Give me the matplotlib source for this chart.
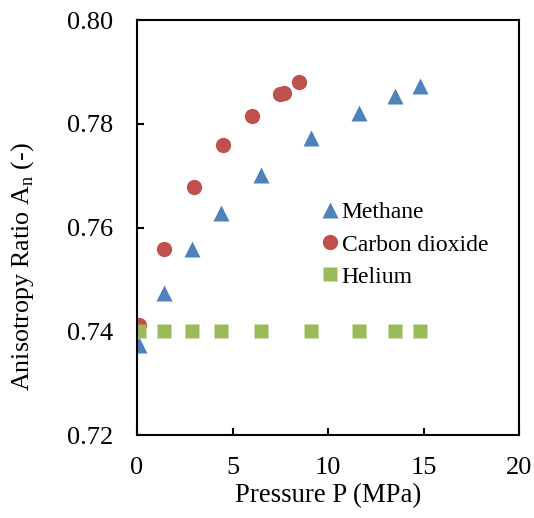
import matplotlib
matplotlib.use('Agg')
import matplotlib.pyplot as plt

plt.rcParams['font.family'] = 'Liberation Serif'

# data
p_methane = [0.1, 1.4, 2.9, 4.4, 6.5, 9.1, 11.6, 13.5, 14.8]
a_methane = [0.7374, 0.7474, 0.7559, 0.7628, 0.7701, 0.7772, 0.7822, 0.7854, 0.7873]
p_co2 = [0.1, 1.4, 3.0, 4.5, 6.0, 7.5, 7.7, 8.5]
a_co2 = [0.7413, 0.7559, 0.7679, 0.7759, 0.7815, 0.7857, 0.7860, 0.7880]
p_helium = [0.1, 1.4, 2.9, 4.4, 6.5, 9.1, 11.6, 13.5, 14.8]
a_helium = [0.740, 0.740, 0.740, 0.740, 0.740, 0.740, 0.740, 0.740, 0.740]

fig = plt.figure(figsize=(5.34, 5.18), dpi=100)
ax = fig.add_axes([0.2566, 0.160, 0.7154, 0.801])

ax.plot(p_methane, a_methane, '^', color='#4F81BD', ms=11.5, mec='none', label='Methane')
ax.plot(p_co2, a_co2, 'o', color='#C0504D', ms=11, mec='none', label='Carbon dioxide')
ax.plot(p_helium, a_helium, 's', color='#9BBB59', ms=10.5, mec='none', label='Helium')

ax.set_xlim(0, 20)
ax.set_ylim(0.72, 0.80)
ax.set_xticks([0, 5, 10, 15, 20])
ax.set_yticks([0.72, 0.74, 0.76, 0.78, 0.80])
ax.yaxis.set_major_formatter(matplotlib.ticker.FormatStrFormatter('%.2f'))
ax.tick_params(direction='in', length=5, width=1.5, labelsize=19)
ax.tick_params(axis='x', pad=16)
ax.tick_params(axis='y', pad=17)
for s in ax.spines.values():
    s.set_linewidth(1.5)

ax.set_xlabel('Pressure P (MPa)', fontsize=19.3, labelpad=3)
ax.set_ylabel(r'Anisotropy Ratio A$_\mathregular{n}$ (-)', fontsize=18.7)
ax.yaxis.set_label_coords(-0.264, 0.407)

ax.legend(loc='upper left', bbox_to_anchor=(0.462, 0.585), frameon=False, fontsize=17,
          handlelength=0.6, handletextpad=0.2, labelspacing=0.45, borderaxespad=0)

fig.savefig('out.png', dpi=100)
